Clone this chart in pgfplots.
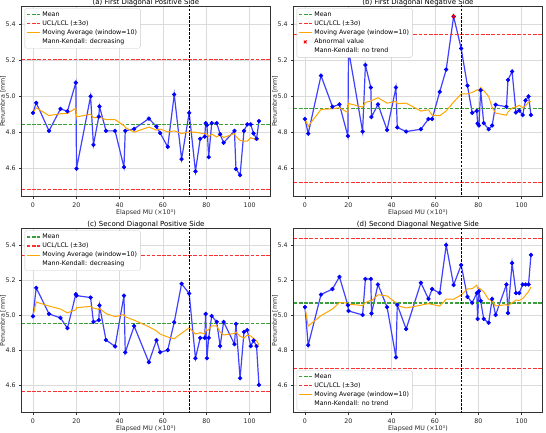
\documentclass[border=0pt]{standalone}
\usepackage{fontspec}
\setmainfont{DejaVu Sans}
\usepackage{pgfplots}
\pgfplotsset{compat=1.18}
\usepackage{pgfplotstable}
\definecolor{mplorange}{HTML}{FFA500}
\definecolor{meangreen}{HTML}{3A9E3A}
\definecolor{ctrlred}{HTML}{FF3030}
\definecolor{datablue}{HTML}{4040FF}

\pgfplotstableread{
x y ma
0 4.906 4.906
1.5 4.962 4.934
7.4 4.806 4.891
12.7 4.928 4.901
15.9 4.915 4.903
19.8 5.074 4.932
20.1 4.596 4.884
26.6 4.998 4.898
27.9 4.728 4.879
30.4 4.885 4.880
30.7 4.942 4.883
33.7 4.806 4.868
37.9 4.806 4.868
42.0 4.604 4.835
42.6 4.806 4.825
46.7 4.817 4.799
53.5 4.874 4.827
57.0 4.830 4.810
58.7 4.794 4.816
62.2 4.717 4.800
65.2 5.008 4.806
68.6 4.649 4.791
72.1 4.906 4.801
75.0 4.581 4.798
77.2 4.762 4.794
79.3 4.774 4.790
79.7 4.849 4.787
80.3 4.838 4.788
81.1 4.660 4.774
82.5 4.849 4.788
84.8 4.849 4.772
86.4 4.787 4.786
88.0 4.740 4.769
93.0 4.806 4.791
93.7 4.594 4.775
95.6 4.560 4.753
97.4 4.806 4.749
98.9 4.842 4.749
100.5 4.842 4.768
101.8 4.792 4.762
103.2 4.762 4.753
104.3 4.860 4.760
}\tabA

\pgfplotstableread{
x y ma
0 4.872 4.872
1.5 4.791 4.832
7.4 5.113 4.925
12.7 4.940 4.929
15.9 4.953 4.934
19.8 4.777 4.908
20.1 5.257 4.958
26.6 4.802 4.938
27.9 5.172 4.964
30.4 5.047 4.972
30.7 4.883 4.974
33.7 4.953 4.990
37.9 4.811 4.960
42.0 5.047 4.970
42.6 4.825 4.957
46.7 4.802 4.960
53.5 4.815 4.916
57.0 4.872 4.923
58.7 4.872 4.893
62.2 5.023 4.890
65.2 5.147 4.917
68.6 5.442 4.966
72.1 5.264 5.011
75.0 5.057 5.012
77.2 4.906 5.020
79.3 4.917 5.032
79.7 4.847 5.035
80.3 4.836 5.031
81.1 5.032 5.047
82.5 4.849 5.030
84.8 4.815 4.997
86.4 4.836 4.936
88.0 4.951 4.905
93.0 4.940 4.893
93.7 5.089 4.911
95.6 5.136 4.933
97.4 4.908 4.939
98.9 4.919 4.948
100.5 4.894 4.934
101.8 4.975 4.946
103.2 4.998 4.965
104.3 4.894 4.970
}\tabB

\pgfplotstableread{
x y ma
0 4.994 4.994
1.5 5.158 5.076
7.4 5.008 5.053
12.7 4.985 5.036
15.9 4.926 5.014
19.8 5.121 5.032
20.1 5.113 5.044
26.6 5.102 5.051
27.9 4.962 5.041
30.4 4.972 5.034
30.7 5.057 5.040
33.7 4.858 5.010
37.9 4.821 4.992
42.0 5.113 5.005
42.6 4.787 4.991
46.7 4.938 4.972
53.5 4.730 4.934
57.0 4.857 4.910
58.7 4.787 4.892
62.2 4.800 4.875
65.2 4.960 4.865
68.6 5.181 4.897
72.1 5.125 4.928
75.0 4.753 4.892
77.2 4.870 4.900
79.3 4.870 4.893
79.7 5.008 4.921
80.3 4.753 4.911
81.1 4.870 4.919
82.5 4.996 4.939
84.8 4.962 4.939
86.4 4.823 4.903
88.0 4.962 4.887
93.0 4.834 4.895
93.7 4.951 4.903
95.6 4.638 4.880
97.4 4.904 4.869
98.9 4.915 4.886
100.5 4.823 4.881
101.8 4.855 4.867
103.2 4.823 4.853
104.3 4.600 4.831
}\tabC

\pgfplotstableread{
x y ma
0 5.047 5.047
1.5 4.828 4.938
7.4 5.119 4.998
12.7 5.151 5.036
15.9 5.221 5.073
19.8 5.058 5.071
20.1 5.025 5.064
26.6 5.002 5.056
27.9 5.209 5.073
30.4 5.209 5.087
30.7 5.011 5.083
33.7 5.177 5.118
37.9 5.047 5.111
42.0 4.758 5.072
42.6 5.060 5.056
46.7 4.921 5.042
53.5 5.187 5.058
57.0 5.094 5.067
58.7 5.151 5.062
62.2 5.128 5.053
65.2 5.404 5.093
68.6 5.174 5.092
72.1 5.289 5.117
75.0 5.106 5.151
77.2 5.072 5.153
79.3 5.128 5.173
79.7 4.979 5.153
80.3 5.138 5.157
81.1 5.083 5.150
82.5 4.979 5.135
84.8 4.957 5.091
86.4 5.094 5.083
88.0 5.002 5.054
93.0 5.177 5.061
93.7 5.013 5.055
95.6 5.300 5.072
97.4 5.128 5.087
98.9 5.128 5.086
100.5 5.177 5.096
101.8 5.177 5.115
103.2 5.177 5.137
104.3 5.347 5.163
}\tabD

\pgfplotsset{
  panel/.style={
    scale only axis, width=248.5pt,
    xmin=-5.2, xmax=109.5, ymin=4.44, ymax=5.50,
    xtick={0,20,40,60,80,100}, ytick={4.6,4.8,5.0,5.2,5.4},
    yticklabel style={/pgf/number format/.cd, fixed, fixed zerofill, precision=1},
    /pgf/number format/assume math mode=true,
    tick label style={font=\fontsize{6.3}{7}\selectfont, color=black!85},
    label style={font=\fontsize{6.3}{7}\selectfont, color=black!85},
    title style={font=\fontsize{7}{8}\selectfont, yshift=-9.5pt},
    xlabel={Elapsed MU (×10³)}, ylabel={Penumbra [mm]},
    xlabel style={yshift=5pt}, ylabel style={yshift=-7pt},
    grid=major, grid style={black!14, line width=0.7pt},
    axis line style={black!80, line width=0.5pt},
    tick align=outside, major tick length=2.5pt,
    tick style={black!80, line width=0.5pt},
    xtick pos=lower, ytick pos=left,
    legend cell align=left,
    legend style={font=\fontsize{6.3}{7.2}\selectfont, draw=black!20, rounded corners=1.5pt,
      fill=white, inner sep=1.2pt, row sep=-1.2pt,
      at={(0.012,0.988)}, anchor=north west},
  },
  lineleg/.style={legend image code/.code={\draw[##1] (0pt,0pt) -- (13pt,0pt);}},
  markleg/.style={legend image code/.code={\draw[##1] plot coordinates {(6.5pt,0pt)};}},
  datal/.style={datablue, line width=1.2pt, mark=*, mark size=1.9pt,
    mark options={solid, fill=blue, draw=blue, line width=0.5pt}, forget plot},
  meanl/.style={meangreen, line width=1.3pt, dash pattern=on 3.6pt off 1.6pt, lineleg},
  ctrl/.style={ctrlred, line width=1.3pt, dash pattern=on 3.6pt off 1.6pt, lineleg},
  mal/.style={mplorange, line width=1pt, lineleg},
  abn/.style={only marks, mark=x, red, mark size=2pt, line width=0.9pt, markleg},
  vline/.style={black, line width=0.9pt, dash pattern=on 2.6pt off 1.3pt, forget plot},
}

\begin{document}
\begin{tikzpicture}
\useasboundingbox (0,0) rectangle (546pt,432pt);

% (a)
\begin{axis}[panel, at={(21.7pt,235.3pt)}, anchor=south west, height=190.7pt,
  title={(a) First Diagonal Positive Side}]
\addplot[datal] table[x=x,y=y]{\tabA};
\addplot[meanl] coordinates {(-10,4.842) (120,4.842)};
\addlegendentry{Mean}
\addplot[ctrl] coordinates {(-10,5.204) (120,5.204)};
\addlegendentry{UCL/LCL (±3σ)}
\addplot[ctrl, forget plot] coordinates {(-10,4.479) (120,4.479)};
\addplot[mal] table[x=x,y=ma]{\tabA};
\addlegendentry{Moving Average (window=10)}
\addlegendimage{empty legend}
\addlegendentry{Mann-Kendall: decreasing}
\addplot[vline] coordinates {(72,4.3) (72,5.6)};
\end{axis}

% (b)
\begin{axis}[panel, at={(293.7pt,235.3pt)}, anchor=south west, height=190.7pt,
  title={(b) First Diagonal Negative Side}]
\addplot[datal] table[x=x,y=y]{\tabB};
\addplot[meanl] coordinates {(-10,4.930) (120,4.930)};
\addlegendentry{Mean}
\addplot[ctrl] coordinates {(-10,5.343) (120,5.343)};
\addlegendentry{UCL/LCL (±3σ)}
\addplot[ctrl, forget plot] coordinates {(-10,4.519) (120,4.519)};
\addplot[mal] table[x=x,y=ma]{\tabB};
\addlegendentry{Moving Average (window=10)}
\addplot[abn] coordinates {(68.6,5.442)};
\addlegendentry{Abnormal value}
\addlegendimage{empty legend}
\addlegendentry{Mann-Kendall: no trend}
\addplot[vline] coordinates {(72,4.3) (72,5.6)};
\end{axis}

% (c)
\begin{axis}[panel, at={(21.7pt,19.3pt)}, anchor=south west, height=184.4pt,
  title={(c) Second Diagonal Positive Side}]
\addplot[datal] table[x=x,y=y]{\tabC};
\addplot[meanl] coordinates {(-10,4.953) (120,4.953)};
\addlegendentry{Mean}
\addplot[ctrl] coordinates {(-10,5.345) (120,5.345)};
\addlegendentry{UCL/LCL (±3σ)}
\addplot[ctrl, forget plot] coordinates {(-10,4.560) (120,4.560)};
\addplot[mal] table[x=x,y=ma]{\tabC};
\addlegendentry{Moving Average (window=10)}
\addlegendimage{empty legend}
\addlegendentry{Mann-Kendall: decreasing}
\addplot[vline] coordinates {(72,4.3) (72,5.6)};
\end{axis}

% (d)
\begin{axis}[panel, at={(293.7pt,19.3pt)}, anchor=south west, height=184.4pt,
  title={(d) Second Diagonal Negative Side},
  legend style={at={(0.012,0.012)}, anchor=south west}]
\addplot[datal] table[x=x,y=y]{\tabD};
\addplot[meanl] coordinates {(-10,5.070) (120,5.070)};
\addlegendentry{Mean}
\addplot[ctrl] coordinates {(-10,5.443) (120,5.443)};
\addlegendentry{UCL/LCL (±3σ)}
\addplot[ctrl, forget plot] coordinates {(-10,4.696) (120,4.696)};
\addplot[mal] table[x=x,y=ma]{\tabD};
\addlegendentry{Moving Average (window=10)}
\addlegendimage{empty legend}
\addlegendentry{Mann-Kendall: no trend}
\addplot[vline] coordinates {(72,4.3) (72,5.6)};
\end{axis}
\end{tikzpicture}
\end{document}
